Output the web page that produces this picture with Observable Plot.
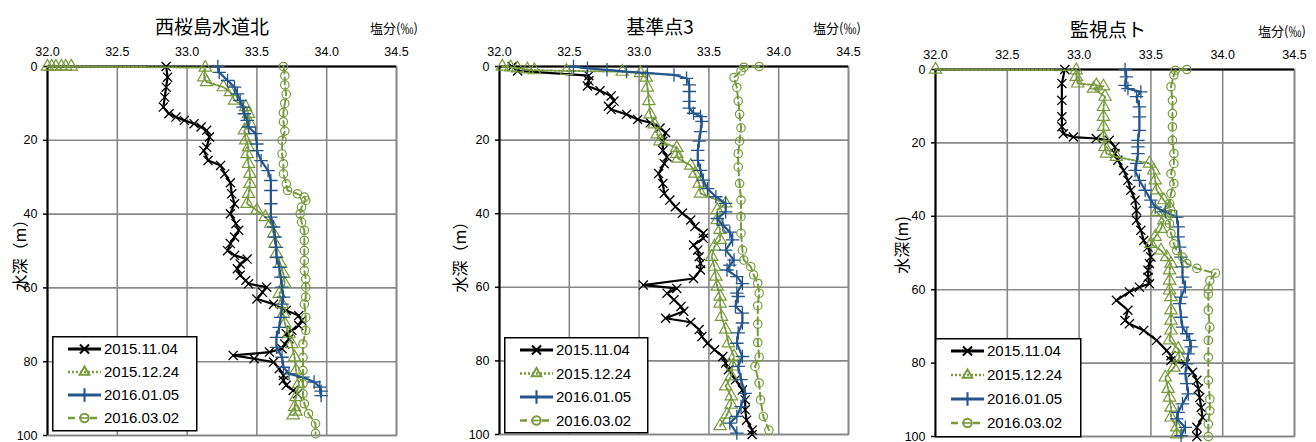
<!DOCTYPE html>
<html><head><meta charset="utf-8">
<script src="https://cdn.jsdelivr.net/npm/d3@7"></script>
<script src="https://cdn.jsdelivr.net/npm/@observablehq/plot@0.6"></script>
<style>
body{margin:0;background:#fff;}
#root{position:relative;width:1316px;height:442px;overflow:hidden;font-family:"Liberation Sans",Arial,sans-serif;}
.pl{position:absolute;top:0;}
.title{position:absolute;font-family:"Noto Sans CJK JP";font-size:19px;line-height:1;transform:translate(-50%,-50%);white-space:nowrap;color:#000;}
.unit{position:absolute;font-family:"Noto Sans CJK JP";font-size:13px;line-height:1;transform:translateY(-50%);white-space:nowrap;color:#000;}
.ylab{position:absolute;font-family:"Noto Sans CJK JP";font-size:16px;line-height:1;transform:translate(-50%,-50%) rotate(-90deg);white-space:nowrap;color:#000;}
</style>
</head><body>
<div id="root"></div>
<script>
// ---- categories & ticks ----
const stations = ["西桜島水道北", "基準点3", "監視点ト"];
const dates = ["2015.11.04", "2015.12.24", "2016.01.05", "2016.03.02"];
const xTicks = [32.0, 32.5, 33.0, 33.5, 34.0, 34.5];
const yTicks = [0, 20, 40, 60, 80, 100];
const unitLabel = "塩分(‰)";
const depthLabels = ["水深（m）", "水深（m）", "水深(m)"];

// ---- data: [depth (m), salinity (‰)] ----
// 西桜島水道北
const nishi_20151104 = [[0,32.85],[2.9,32.86],[5.6,32.85],[8.3,32.84],[11,32.83],[12.8,32.87],[13.7,32.92],[14.6,32.98],[15.5,33.05],[16.4,33.10],[17.3,33.14],[19.1,33.16],[21.9,33.14],[22.8,33.12],[25.5,33.15],[26.8,33.24],[29.1,33.27],[31.5,33.31],[34.5,33.32],[37.2,33.34],[39.9,33.31],[42.6,33.35],[44.4,33.37],[46.2,33.34],[48.0,33.31],[49.9,33.29],[51.2,33.34],[52.2,33.43],[53.5,33.38],[54.8,33.36],[56.6,33.38],[58.0,33.42],[58.9,33.44],[59.8,33.57],[61.2,33.54],[63,33.50],[64.4,33.62],[66.1,33.71],[67.5,33.80],[68.8,33.82],[70.2,33.80],[71.5,33.75],[72.4,33.71],[73.8,33.73],[75.2,33.70],[76.5,33.68],[77.4,33.59],[78.3,33.33],[79.2,33.48],[80.1,33.62],[81.9,33.66],[83.7,33.69],[85.1,33.69],[86.4,33.71],[87.8,33.76],[88.7,33.79]];
const nishi_20151224 = [[0,32.0],[0,32.03],[0,32.06],[0,32.1],[0,32.13],[0,32.17],[0.3,33.13],[2.9,33.12],[4.2,33.14],[5.6,33.26],[6.9,33.31],[9.2,33.34],[11,33.42],[12.8,33.44],[15.5,33.45],[17.3,33.41],[20,33.42],[21.9,33.44],[23.7,33.43],[26.4,33.44],[29.1,33.45],[31.8,33.45],[34.5,33.44],[37.2,33.43],[39,33.50],[40.8,33.56],[42.6,33.60],[45.3,33.62],[48,33.63],[50.8,33.64],[53.5,33.67],[56.2,33.69],[58.9,33.70],[61.6,33.66],[64.4,33.68],[67,33.69],[69.7,33.70],[72.4,33.73],[75.2,33.75],[78.8,33.77],[82.4,33.78],[86,33.80],[89.6,33.78],[92.3,33.77],[93.5,33.78],[94.5,33.76]];
const nishi_20160105 = [[0,33.22],[1.6,33.23],[3.8,33.29],[5.6,33.34],[7.4,33.36],[9.2,33.38],[11,33.40],[12.8,33.41],[14.6,33.43],[16.4,33.44],[18.2,33.49],[21,33.50],[22.8,33.50],[25.5,33.53],[28.2,33.58],[30.9,33.60],[33.6,33.60],[37.2,33.60],[40.8,33.60],[43.5,33.62],[46.2,33.63],[49,33.64],[51.7,33.64],[54.4,33.66],[57.1,33.67],[59.8,33.68],[62.5,33.69],[64.4,33.68],[68,33.67],[70.7,33.66],[73.4,33.64],[76.1,33.64],[78.8,33.68],[81.5,33.69],[83.3,33.73],[84.2,33.83],[85.5,33.91],[86.9,33.95],[88,33.96],[89.2,33.96]];
const nishi_20160302 = [[0,33.69],[2.5,33.70],[5,33.70],[7.5,33.71],[10,33.70],[12.5,33.69],[15,33.69],[17.5,33.70],[20,33.68],[23.7,33.68],[26.4,33.69],[29.1,33.69],[31.8,33.71],[33.6,33.72],[34.5,33.79],[35.4,33.84],[36.3,33.85],[38.1,33.82],[39.9,33.81],[42.2,33.82],[44.4,33.84],[47.1,33.84],[49.9,33.84],[52.6,33.84],[55.3,33.84],[57.6,33.85],[59.8,33.85],[62.5,33.85],[64.4,33.84],[68,33.85],[71.5,33.85],[75.2,33.83],[78.8,33.83],[82.4,33.83],[86,33.83],[88.7,33.83],[91.4,33.84],[94.1,33.87],[96.8,33.92],[99.5,33.92]];
// 基準点3
const kijun_20151104 = [[0,32.09],[1.2,32.13],[2.5,32.64],[3.9,32.64],[5.3,32.63],[6.6,32.72],[8,32.80],[9.4,32.82],[10.8,32.78],[11.7,32.80],[13,32.91],[14.4,32.99],[15.3,33.08],[16.7,33.15],[18,33.19],[20.3,33.17],[22.8,33.17],[24.6,33.20],[26.4,33.18],[29.1,33.14],[31.8,33.17],[34.5,33.18],[36.3,33.22],[38.1,33.26],[39.9,33.31],[41.7,33.37],[43.5,33.40],[45.3,33.46],[46.7,33.46],[48.5,33.39],[49.9,33.42],[51.7,33.43],[53.5,33.44],[55.3,33.44],[57.6,33.39],[59.4,33.03],[60.3,33.27],[61.6,33.20],[63.4,33.25],[65.2,33.30],[66.5,33.32],[68.4,33.19],[69.5,33.37],[71.5,33.43],[73.4,33.45],[75.2,33.49],[77,33.54],[78.8,33.60],[80.6,33.62],[82.4,33.64],[85.1,33.69],[87.9,33.74],[90.6,33.76],[93.3,33.76],[96.1,33.77],[98.8,33.81],[100,33.81]];
const kijun_20151224 = [[0,32.02],[0.2,32.08],[0.5,32.13],[0.8,32.20],[1.0,32.25],[1.2,32.48],[1.4,32.88],[1.8,33.01],[3,33.05],[5.7,33.06],[9.4,33.07],[13,33.08],[15.7,33.11],[18.4,33.13],[20.3,33.15],[22.1,33.27],[23.7,33.27],[25,33.28],[26.9,33.37],[29.1,33.40],[31.8,33.43],[34.5,33.44],[37.2,33.62],[39,33.56],[41.7,33.56],[44.4,33.58],[47.1,33.58],[48.9,33.54],[51.7,33.52],[54.4,33.54],[57.1,33.55],[59.8,33.56],[62.5,33.58],[64.4,33.58],[68,33.59],[71.5,33.62],[75.2,33.64],[78.8,33.68],[81.5,33.67],[84.2,33.66],[86.9,33.62],[89.6,33.66],[91.9,33.66],[94.6,33.63],[97.7,33.58]];
const kijun_20160105 = [[0,32.53],[0.5,32.63],[0.9,32.77],[1.4,32.91],[1.8,33.06],[2.3,33.25],[3.2,33.34],[5,33.36],[6.8,33.36],[9.5,33.36],[11.3,33.36],[12.7,33.39],[13.6,33.44],[14.9,33.45],[17.7,33.44],[20.3,33.43],[22.8,33.42],[25.5,33.42],[28.2,33.44],[30.9,33.46],[33.2,33.49],[35.4,33.55],[37.2,33.62],[39.5,33.62],[41.3,33.56],[43.1,33.60],[45,33.65],[47.1,33.67],[49.9,33.62],[52.6,33.68],[54,33.65],[55.3,33.63],[57.1,33.70],[59,33.74],[61.6,33.70],[62.5,33.71],[65.2,33.69],[67,33.74],[69.7,33.74],[72.4,33.71],[75.2,33.70],[78.8,33.74],[81.5,33.71],[85.1,33.73],[88.8,33.76],[92.4,33.73],[95.1,33.70],[96.9,33.65],[99.6,33.70]];
const kijun_20160302 = [[0,33.86],[0.2,33.75],[1.2,33.73],[3,33.68],[5.7,33.70],[9.4,33.71],[13,33.72],[16.7,33.73],[20.3,33.72],[23.7,33.71],[27.3,33.71],[31.8,33.72],[36.3,33.73],[40.8,33.73],[45.3,33.73],[49.9,33.74],[52.6,33.75],[54.4,33.80],[56.6,33.82],[58.9,33.85],[61.6,33.86],[65,33.85],[70,33.85],[75,33.85],[79,33.86],[81.5,33.83],[86,33.86],[90.6,33.87],[95.1,33.89],[98.8,33.93]];
// 監視点ト
const kanshi_20151104 = [[0,32.90],[3.8,32.88],[8.4,32.88],[12.9,32.88],[15.6,32.88],[17.5,32.89],[18.4,32.96],[18.8,33.12],[19.3,33.21],[21.1,33.25],[22.9,33.25],[24.7,33.27],[27.5,33.31],[30.2,33.34],[32.9,33.36],[35.6,33.39],[38.4,33.40],[41.1,33.40],[43.8,33.43],[46.6,33.45],[48.4,33.48],[51.1,33.50],[52.9,33.49],[54.7,33.48],[56.6,33.48],[58.4,33.49],[59.3,33.42],[60.6,33.35],[62.9,33.26],[65.6,33.34],[68.4,33.32],[69.3,33.35],[71.1,33.45],[73.8,33.54],[76.6,33.61],[78,33.64],[79.3,33.64],[80.2,33.74],[82.5,33.79],[84.7,33.82],[87,33.83],[89.4,33.84],[92.1,33.85],[94.8,33.86],[97.5,33.82],[100,33.82]];
const kanshi_20151224 = [[0,32.0],[0.2,32.98],[2,32.98],[3.8,32.99],[4.3,33.12],[4.6,33.17],[5.2,33.10],[7.4,33.18],[10.2,33.17],[12.9,33.17],[15.6,33.17],[18.4,33.17],[21.1,33.18],[22.9,33.19],[23.8,33.26],[25.6,33.49],[27.5,33.52],[30.2,33.53],[32.9,33.54],[35.6,33.59],[37.5,33.63],[38.8,33.54],[41.1,33.59],[43.4,33.57],[45.6,33.53],[47.5,33.50],[49.3,33.57],[51.1,33.61],[52.9,33.64],[54.7,33.63],[57.5,33.63],[60.2,33.63],[62,33.64],[65.6,33.64],[68.4,33.64],[71.1,33.64],[73.8,33.63],[76.1,33.69],[78.4,33.70],[81.2,33.66],[83.9,33.60],[87,33.62],[89.4,33.63],[92.1,33.64],[94.8,33.64],[97.5,33.68],[99.4,33.68]];
const kanshi_20160105 = [[0,33.32],[2,33.33],[4.3,33.32],[5.2,33.34],[6.1,33.43],[7.4,33.40],[10.2,33.42],[12.9,33.42],[16.6,33.42],[19.3,33.41],[21.1,33.41],[22.9,33.41],[25.6,33.40],[27.5,33.39],[30.2,33.42],[32.9,33.46],[35.6,33.50],[37.5,33.53],[38.8,33.60],[40.2,33.68],[42.9,33.69],[45.6,33.69],[48.4,33.70],[51.1,33.71],[53.8,33.72],[56.6,33.72],[59.3,33.74],[62,33.71],[63.8,33.70],[67.5,33.71],[70.2,33.72],[72,33.75],[73.8,33.77],[75.6,33.78],[77.5,33.76],[80.2,33.75],[82.9,33.74],[85.6,33.75],[88.4,33.76],[91.1,33.72],[93.4,33.69],[95.2,33.68],[97.5,33.74],[99.8,33.71]];
const kanshi_20160302 = [[0,33.75],[0.2,33.67],[1.5,33.66],[4.7,33.64],[8.4,33.65],[12,33.65],[15.6,33.65],[19.3,33.65],[22.9,33.66],[25.6,33.66],[28.4,33.64],[31.1,33.66],[33.8,33.64],[36.5,33.63],[39.3,33.64],[42,33.63],[44.7,33.64],[47.5,33.66],[49.3,33.68],[51.1,33.72],[52.9,33.75],[54.2,33.82],[55.5,33.95],[57.5,33.91],[59.8,33.90],[61.2,33.90],[65.6,33.90],[70.2,33.91],[73.8,33.90],[78.4,33.90],[84.7,33.90],[89.8,33.91],[93,33.91],[96.6,33.90],[100,33.90]];

// ---- styles per date ----
const GREEN = "#789A3C", BLUE = "#24558B";
const styles = [
  {stroke: "#000", width: 2.2, dash: null, symbol: "times", r: 4.2, sw: 1.3},
  {stroke: GREEN, width: 2, dash: "2,2", symbol: "triangle", r: 4.6, sw: 1.2},
  {stroke: BLUE, width: 2.2, dash: null, symbol: "plus", r: 4.4, sw: 1.3},
  {stroke: GREEN, width: 2, dash: "7,4", symbol: "circle", r: 4.2, sw: 1.2}
];
const d3sym = {times: d3.symbolTimes, triangle: d3.symbolTriangle2, plus: d3.symbolPlus, circle: d3.symbolCircle};

const panels = [
  {name: stations[0], series: [nishi_20151104, nishi_20151224, nishi_20160105, nishi_20160302],
   left: 0, width: 440, ml: 47, mr: 44, mt: 66, mb: 7,
   title: [212, 25], unit: [370, 27], ylab: [19, 251], ylabel: depthLabels[0],
   leg: {left: 52, top: 336, w: 144, h: 94, dy: 23}},
  {name: stations[1], series: [kijun_20151104, kijun_20151224, kijun_20160105, kijun_20160302],
   left: 440, width: 436, ml: 59, mr: 28, mt: 66, mb: 8,
   title: [660, 25], unit: [813, 27], ylab: [459, 253], ylabel: depthLabels[1],
   leg: {left: 504, top: 337, w: 143, h: 95, dy: 23.5}},
  {name: stations[2], series: [kanshi_20151104, kanshi_20151224, kanshi_20160105, kanshi_20160302],
   left: 876, width: 440, ml: 59, mr: 22, mt: 69, mb: 6,
   title: [1108, 28], unit: [1258, 30], ylab: [901, 245], ylabel: depthLabels[2],
   leg: {left: 935, top: 338, w: 145, h: 98, dy: 24}}
];

const root = document.getElementById("root");
const X = d => d[1], Y = d => d[0];

for (const p of panels) {
  const marks = [
    Plot.gridX(xTicks, {stroke: "#888", strokeOpacity: 1, strokeWidth: 1.6}),
    Plot.gridY(yTicks, {stroke: "#888", strokeOpacity: 1, strokeWidth: 1.6}),
    Plot.frame({stroke: "#888", strokeWidth: 1.6}),
    Plot.ruleX([32], {stroke: "#000", strokeWidth: 2}),
    Plot.ruleY([0], {stroke: "#000", strokeWidth: 2}),
    Plot.axisX(xTicks, {anchor: "top", tickSize: 0, tickPadding: 11, tickFormat: d3.format(".1f"), label: null, fontSize: 12.5}),
    Plot.axisY(yTicks, {anchor: "left", tickSize: 4, tickPadding: 6, label: null, fontSize: 12.5, strokeWidth: 1.5})
  ];
  p.series.forEach((data, i) => {
    const s = styles[i];
    marks.push(Plot.line(data, {x: X, y: Y, stroke: s.stroke, strokeWidth: s.width, strokeDasharray: s.dash, curve: "linear"}));
    marks.push(Plot.dot(data, {x: X, y: Y, symbol: s.symbol, r: s.r, stroke: s.stroke, fill: "none", strokeWidth: s.sw}));
  });
  const chart = Plot.plot({
    width: p.width, height: 442,
    marginLeft: p.ml, marginRight: p.mr, marginTop: p.mt, marginBottom: p.mb,
    style: {fontFamily: "'Liberation Sans', Arial, sans-serif", color: "#000", background: "transparent", overflow: "visible"},
    x: {domain: [32, 34.5]},
    y: {domain: [0, 100], reverse: true},
    marks
  });
  chart.classList.add("pl");
  chart.style.left = p.left + "px";
  root.appendChild(chart);

  const t = document.createElement("div");
  t.className = "title"; t.textContent = p.name;
  t.style.left = p.title[0] + "px"; t.style.top = p.title[1] + "px";
  root.appendChild(t);

  const u = document.createElement("div");
  u.className = "unit"; u.textContent = unitLabel;
  u.style.left = p.unit[0] + "px"; u.style.top = p.unit[1] + "px";
  root.appendChild(u);

  const yl = document.createElement("div");
  yl.className = "ylab"; yl.textContent = p.ylabel;
  yl.style.left = p.ylab[0] + "px"; yl.style.top = p.ylab[1] + "px";
  root.appendChild(yl);

  // legend
  const L = p.leg;
  const svg = d3.create("svg").attr("width", L.w + 2).attr("height", L.h + 2)
    .style("position", "absolute").style("left", L.left + "px").style("top", L.top + "px");
  svg.append("rect").attr("x", 0.75).attr("y", 0.75).attr("width", L.w).attr("height", L.h)
    .attr("fill", "#fff").attr("stroke", "#000").attr("stroke-width", 1.5);
  dates.forEach((dt, i) => {
    const s = styles[i];
    const cy = 13 + i * L.dy;
    svg.append("line").attr("x1", 16).attr("x2", 49).attr("y1", cy).attr("y2", cy)
      .attr("stroke", s.stroke).attr("stroke-width", s.width + 0.6).attr("stroke-dasharray", s.dash);
    svg.append("path").attr("transform", `translate(32.5,${cy})`)
      .attr("d", d3.symbol(d3sym[s.symbol], Math.PI * s.r * s.r)())
      .attr("fill", s.symbol === "circle" ? "#fff" : "none").attr("stroke", s.stroke).attr("stroke-width", s.sw + 0.8);
    if (s.symbol === "circle") {
      svg.append("line").attr("x1", 29).attr("x2", 36).attr("y1", cy).attr("y2", cy).attr("stroke", s.stroke).attr("stroke-width", 1.6);
    }
    svg.append("text").attr("x", 52).attr("y", cy).attr("dy", "0.36em")
      .attr("font-family", "'Liberation Sans', Arial, sans-serif").attr("font-size", 15).attr("fill", "#000").text(dt);
  });
  root.appendChild(svg.node());
}
</script>
</body></html>
